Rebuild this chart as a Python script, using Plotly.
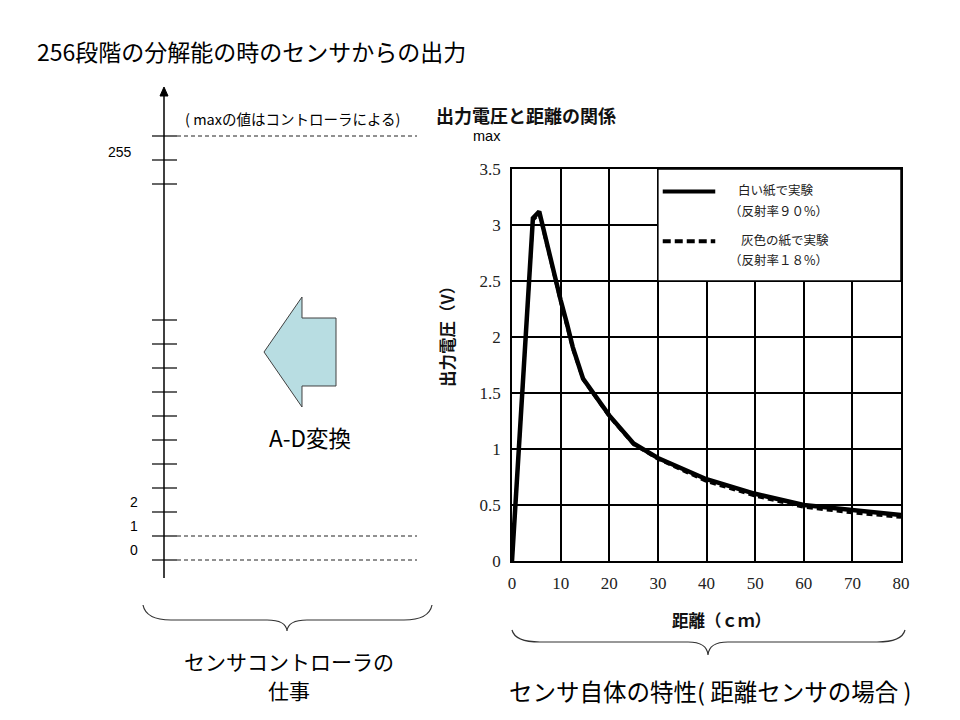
import plotly.graph_objects as go

# ---------------- data ----------------
distance_cm = [0, 4.3, 5.6, 6.4, 8.4, 10, 11.3, 12.5, 14.6, 18, 20, 25, 30, 40, 50, 60, 70, 80]
voltage_white = [0, 3.06, 3.12, 2.97, 2.62, 2.33, 2.12, 1.91, 1.63, 1.42, 1.30, 1.05, 0.92, 0.73, 0.60, 0.50, 0.45, 0.41]
voltage_gray = [0, 3.04, 3.10, 2.95, 2.60, 2.31, 2.10, 1.89, 1.62, 1.41, 1.29, 1.04, 0.91, 0.71, 0.58, 0.48, 0.43, 0.39]
x_ticks = [0, 10, 20, 30, 40, 50, 60, 70, 80]
y_ticks = [0, 0.5, 1, 1.5, 2, 2.5, 3, 3.5]
y_tick_text = ["0", "0.5", "1", "1.5", "2", "2.5", "3", "3.5"]
series_names = ["白い紙で実験", "灰色の紙で実験"]
series_notes = ["（反射率９０%）", "（反射率１８%）"]
level_labels = ["0", "1", "2", "255"]

W, H = 960, 720
def X(p):
    return p / W
def Y(p):
    return 1 - p / H

JP = "Noto Sans CJK JP, Noto Sans, sans-serif"
SANS = "Liberation Sans, Arial, sans-serif"
SERIF = "Liberation Serif, DejaVu Serif, serif"

fig = go.Figure()
fig.add_trace(go.Scatter(x=distance_cm, y=voltage_gray, mode="lines", name=series_names[1],
                         line=dict(color="black", width=3, dash="6px,4px"), showlegend=False))
fig.add_trace(go.Scatter(x=distance_cm, y=voltage_white, mode="lines", name=series_names[0],
                         line=dict(color="black", width=4.5), showlegend=False))

shapes = []
ann = []

def text(x, y, s, size, bold=False, font=JP, anchor="center", angle=0, color="black"):
    ann.append(dict(x=X(x), y=Y(y), xref="paper", yref="paper", text=("<b>%s</b>" % s) if bold else s,
                    showarrow=False, xanchor=anchor, yanchor="middle", textangle=angle,
                    font=dict(family=font, size=size, color=color)))

def line(x0, y0, x1, y1, width=1.2, dash=None, color="black"):
    d = dict(type="line", xref="paper", yref="paper", x0=X(x0), y0=Y(y0), x1=X(x1), y1=Y(y1),
             line=dict(color=color, width=width))
    if dash:
        d["line"]["dash"] = dash
    shapes.append(d)

def P(a, b):
    return "%.5f,%.5f" % (X(a), Y(b))

def polygon(pts, fill, lc="black", lw=1):
    s = "M" + P(*pts[0]) + "".join(" L" + P(*p) for p in pts[1:]) + " Z"
    shapes.append(dict(type="path", xref="paper", yref="paper", path=s, fillcolor=fill,
                       line=dict(color=lc, width=lw)))

def brace(xl, yend, ybar, xm, ytip, xr, lc="#333333"):
    s = ("M" + P(xl, yend) + " Q" + P(xl + 3, ybar) + " " + P(xl + 28, ybar) +
         " L" + P(xm - 20, ybar) + " Q" + P(xm - 1, ybar) + " " + P(xm, ytip) +
         " Q" + P(xm + 1, ybar) + " " + P(xm + 20, ybar) +
         " L" + P(xr - 28, ybar) + " Q" + P(xr - 3, ybar) + " " + P(xr, yend))
    shapes.append(dict(type="path", xref="paper", yref="paper", path=s, line=dict(color=lc, width=1.2)))

# ---------- left schematic axis ----------
ax_x = 164
line(ax_x, 94, ax_x, 578, width=1.5)
polygon([(ax_x, 87), (ax_x - 4, 96), (ax_x + 4, 96)], fill="black")
tick_rows = [136, 160, 184] + [320 + 24 * i for i in range(11)]
for ty in tick_rows:
    line(152, ty, 177, ty, width=1.2)
for ty in [136, 536, 560]:
    line(177, ty, 417, ty, width=1, dash="4px,3px", color="#222222")
text(134, 550, level_labels[0], 14, font=SANS)
text(134, 526, level_labels[1], 14, font=SANS)
text(134, 502, level_labels[2], 14, font=SANS)
text(120, 152, level_labels[3], 14, font=SANS)
text(292, 119, "( maxの値はコントローラによる)", 14.5)

# arrow (A-D conversion)
polygon([(264, 352), (302, 297), (302, 318), (336, 318), (336, 386), (302, 386), (302, 407)],
        fill="#b8dde2", lc="#404040", lw=1)
text(310, 437, "A-D変換", 22.5)

# braces
brace(143, 605, 620, 287, 631, 432)
brace(512, 630, 642, 708, 655, 905)
text(289, 661, "センサコントローラの", 21)
text(289, 690, "仕事", 21)
text(710, 691, "センサ自体の特性( 距離センサの場合 )", 23.5)

# title
text(35, 51, "256段階の分解能の時のセンサからの出力", 23, anchor="left")

# chart texts
text(526, 115, "出力電圧と距離の関係", 18, bold=True, color="#111111")
text(487, 136, "max", 14.5, font=SANS)
text(447, 333, "出力電圧（V）", 16.5, bold=True, angle=-90, color="#111111")
text(721, 620, "距離（ｃｍ）", 16.5, bold=True, color="#111111")

# legend box (data coordinates)
shapes.append(dict(type="rect", xref="x", yref="y", x0=30, x1=80, y0=2.5, y1=3.5, fillcolor="white",
                   line=dict(color="black", width=1.5), layer="above"))
shapes.append(dict(type="line", xref="x", yref="y", x0=31.0, x1=41.8, y0=3.30, y1=3.30,
                   line=dict(color="black", width=4), layer="above"))
shapes.append(dict(type="line", xref="x", yref="y", x0=31.0, x1=41.8, y0=2.855, y1=2.855,
                   line=dict(color="black", width=4, dash="8px,4px"), layer="above"))
text(776, 190, series_names[0], 12.5, color="#222222")
text(778, 210, series_notes[0], 12.5, color="#222222")
text(785, 240, series_names[1], 12.5, color="#222222")
text(778, 259, series_notes[1], 12.5, color="#222222")

fig.update_layout(
    template="none",
    width=W, height=H, margin=dict(l=0, r=0, t=0, b=0, pad=0, autoexpand=False),
    paper_bgcolor="white", plot_bgcolor="white",
    shapes=shapes, annotations=ann, showlegend=False,
    xaxis=dict(domain=[X(512), X(901)], range=[0, 80], tickvals=x_ticks, showgrid=True,
               gridcolor="black", gridwidth=1.5, showline=True, linecolor="black", linewidth=1.5,
               mirror=True, zeroline=False, ticks="", ticklabelstandoff=6, automargin=False,
               tickfont=dict(family=SERIF, size=17, color="#222222"), fixedrange=True),
    yaxis=dict(domain=[Y(561), Y(169)], range=[0, 3.5], tickvals=y_ticks, ticktext=y_tick_text,
               showgrid=True, gridcolor="black", gridwidth=1.5, showline=True, linecolor="black",
               linewidth=1.5, mirror=True, zeroline=False, ticks="", ticklabelstandoff=6, automargin=False,
               tickfont=dict(family=SERIF, size=17, color="#222222"), fixedrange=True),
)

post = ("document.documentElement.style.margin='0';document.body.style.margin='0';"
        "document.body.style.overflow='hidden';"
        "var gd=document.getElementById('{plot_id}');gd.style.position='fixed';"
        "gd.style.left='0px';gd.style.top='0px';")

fig.write_html("out.html", post_script=post, config={"displayModeBar": False})
